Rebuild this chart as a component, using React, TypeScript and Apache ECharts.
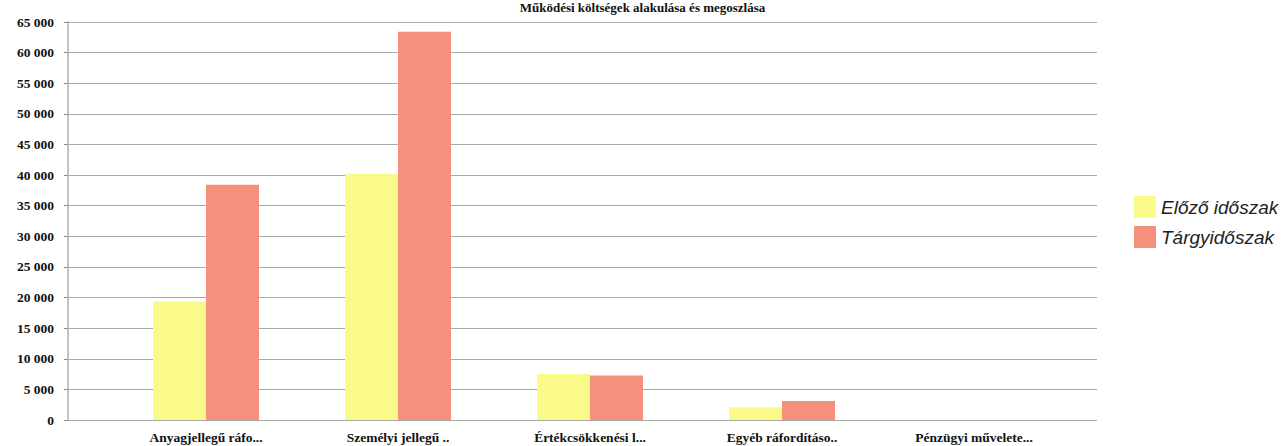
import React, { useEffect, useRef } from "react";
import * as echarts from "echarts";

const titleText = "Működési költségek alakulása és megoszlása";
const categories = [
  "Anyagjellegű ráfo...",
  "Személyi jellegű ..",
  "Értékcsökkenési l...",
  "Egyéb ráfordításo..",
  "Pénzügyi művelete...",
];
const seriesNames = ["Előző időszak", "Tárgyidőszak"];
const previousValues = [19300, 40200, 7500, 2100, 0];
const currentValues = [38400, 63400, 7250, 3100, 0];
const yMax = 65000;
const yInterval = 5000;

const fmt = (v: number) => String(v).replace(/\B(?=(\d{3})+(?!\d))/g, " ");

export default function App() {
  const ref = useRef<HTMLDivElement>(null);
  useEffect(() => {
    if (!ref.current) return;
    const chart = echarts.init(ref.current, undefined, { renderer: "svg" });
    const serif = "'Liberation Serif', 'DejaVu Serif', serif";
    chart.setOption({
      animation: false,
      backgroundColor: "#ffffff",
      graphic: [
        {
          type: "text",
          left: "center",
          top: 1,
          style: {
            text: titleText,
            font: `bold 13px ${serif}`,
            fill: "#111",
          },
        },
      ],
      legend: {
        orient: "vertical",
        left: 1129,
        top: 191,
        itemWidth: 22,
        itemHeight: 22,
        itemGap: 8,
        icon: "rect",
        data: seriesNames,
        textStyle: {
          fontFamily: "'Liberation Sans', Arial, sans-serif",
          fontStyle: "italic",
          fontSize: 19,
          color: "#222",
        },
      },
      grid: [
        { left: 68, right: 188, top: 22, bottom: 26 },
        { left: 110, width: 960, top: 22, bottom: 26 },
      ],
      xAxis: [
        {
          type: "category",
          gridIndex: 0,
          data: categories,
          show: false,
        },
        {
          type: "category",
          gridIndex: 1,
          data: categories,
          axisLine: { show: false },
          axisTick: { show: false },
          axisLabel: {
            interval: 0,
            margin: 10,
            fontFamily: serif,
            fontWeight: "bold",
            fontSize: 13.5,
            color: "#111",
          },
        },
      ],
      yAxis: [
        {
          type: "value",
          gridIndex: 0,
          min: 0,
          max: yMax,
          interval: yInterval,
          axisLine: { show: true, lineStyle: { color: "#c4c4c4", width: 2 } },
          axisTick: { show: true, length: 4, lineStyle: { color: "#888" } },
          axisLabel: {
            margin: 14,
            formatter: (v: number) => fmt(v),
            fontFamily: serif,
            fontWeight: "bold",
            fontSize: 13.5,
            color: "#111",
          },
          splitLine: { show: true, lineStyle: { color: "#a8a8a8", width: 1 } },
        },
        {
          type: "value",
          gridIndex: 1,
          min: 0,
          max: yMax,
          interval: yInterval,
          show: false,
          splitLine: { show: false },
        },
      ],
      series: [
        {
          name: seriesNames[0],
          type: "bar",
          xAxisIndex: 1,
          yAxisIndex: 1,
          data: previousValues,
          barWidth: 53,
          barGap: "0%",
          itemStyle: { color: "#fafa8a" },
        },
        {
          name: seriesNames[1],
          type: "bar",
          xAxisIndex: 1,
          yAxisIndex: 1,
          data: currentValues,
          barWidth: 53,
          barGap: "0%",
          itemStyle: { color: "#f4907c" },
        },
      ],
    });
    return () => chart.dispose();
  }, []);
  return (
    <div
      ref={ref}
      style={{ position: "fixed", left: 0, top: 0, width: 1285, height: 446 }}
    />
  );
}
